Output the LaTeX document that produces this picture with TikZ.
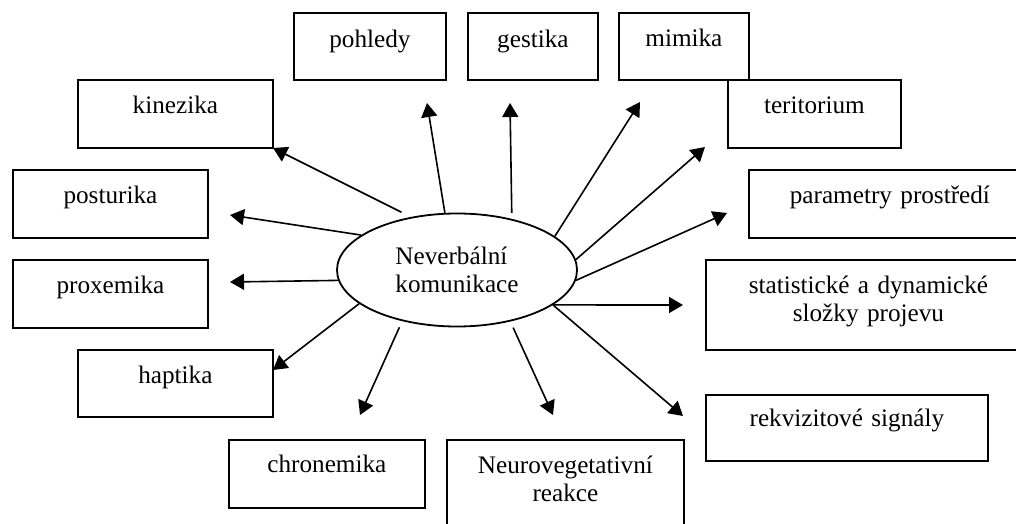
\documentclass[tikz,border=0pt]{standalone}
\usepackage{fontspec}
\setmainfont{Liberation Serif}
\usetikzlibrary{shapes.geometric,arrows.meta}
\tikzset{
  boxnode/.style={draw, line width=0.9pt, inner sep=0pt, align=center, anchor=north west},
  ellnode/.style={draw, ellipse, line width=0.9pt, inner sep=0pt, minimum width=120pt, minimum height=56.5pt, align=left},
  arr/.style={line width=0.8pt, -{Triangle[length=7pt,width=8pt]}}
}
\begin{document}
\begin{tikzpicture}[x=0.5pt,y=-0.5pt,font=\fontsize{12.6}{14}\selectfont]
\useasboundingbox (0,0) rectangle (1016,524);
% boxes
\node[boxnode, text width=76pt, text height=17.5pt, text depth=16pt] (poh) at (293,12) {pohledy};
\node[boxnode, text width=65pt, text height=17.5pt, text depth=16pt] (ges) at (467,12) {gestika};
\node[boxnode, text width=65pt, text height=17pt, text depth=16.5pt] (mim) at (618,12) {mimika};
\node[boxnode, text width=86.5pt, text height=17pt, text depth=17pt] (ter) at (727,79) {teritorium};
\node[boxnode, text width=97.5pt, text height=17pt, text depth=17pt] (kin) at (77,79) {kinezika};
\node[boxnode, text width=97.5pt, text height=17pt, text depth=17pt] (pos) at (12,169) {posturika};
\node[boxnode, text width=141pt, text height=17pt, text depth=17pt] (par) at (748,169) {parametry prostředí};
\node[boxnode, text width=97.5pt, text height=17pt, text depth=17pt] (pro) at (12,259) {proxemika};
\node[boxnode, text width=162.5pt, text height=17pt, text depth=28pt] (sta) at (705,259) {statistické a dynamické\\složky projevu};
\node[boxnode, text width=97.5pt, text height=17pt, text depth=16.5pt] (hap) at (77,349) {haptika};
\node[boxnode, text width=141pt, text height=16pt, text depth=17pt] (rek) at (705,394) {rekvizitové signály};
\node[boxnode, text width=98pt, text height=16.5pt, text depth=17.5pt] (chr) at (228,439) {chronemika};
\node[boxnode, text width=118.5pt, text height=17pt, text depth=28.5pt] (neu) at (446,439) {Neurovegetativní\\reakce};
% centre
\node[ellnode] (ell) at (457,270) {Neverbální\\komunikace};
% arrow tips
\coordinate (tkin) at (273,148);
\coordinate (tpoh) at (427,103);
\coordinate (tges) at (510,103);
\coordinate (tpos) at (230,215);
\coordinate (tmim) at (640,102);
\coordinate (tter) at (705,147);
\coordinate (tpar) at (727,213);
\coordinate (tsta) at (683,305);
\coordinate (trek) at (683,416);
\coordinate (tneu) at (553,415);
\coordinate (tchr) at (360,415);
\coordinate (thap) at (273,370);
\coordinate (tpro) at (230,282);
% arrows
\draw[arr, shorten <=5.25pt] (ell.131.1) -- (tkin);
\draw[arr] (ell.102) -- (tpoh);
\draw[arr, shorten <=3pt] (ell.43.7) -- (tges);
\draw[arr] (ell.160.8) -- (tpos);
\draw[arr] (ell.19.3) -- (tmim);
\draw[arr] (ell.5.6) -- (tter);
\draw[arr] (ell.-5.8) -- (tpar);
\draw[arr] (ell.-20.4) -- (tsta);
\draw[arr] (ell.-20.4) -- (trek);
\draw[arr, shorten <=3.35pt] (ell.-44.3) -- (tneu);
\draw[arr, shorten <=3.35pt] (ell.223.2) -- (tchr);
\draw[arr] (ell.199) -- (thap);
\draw[arr] (ell.185.8) -- (tpro);
\end{tikzpicture}
\end{document}
